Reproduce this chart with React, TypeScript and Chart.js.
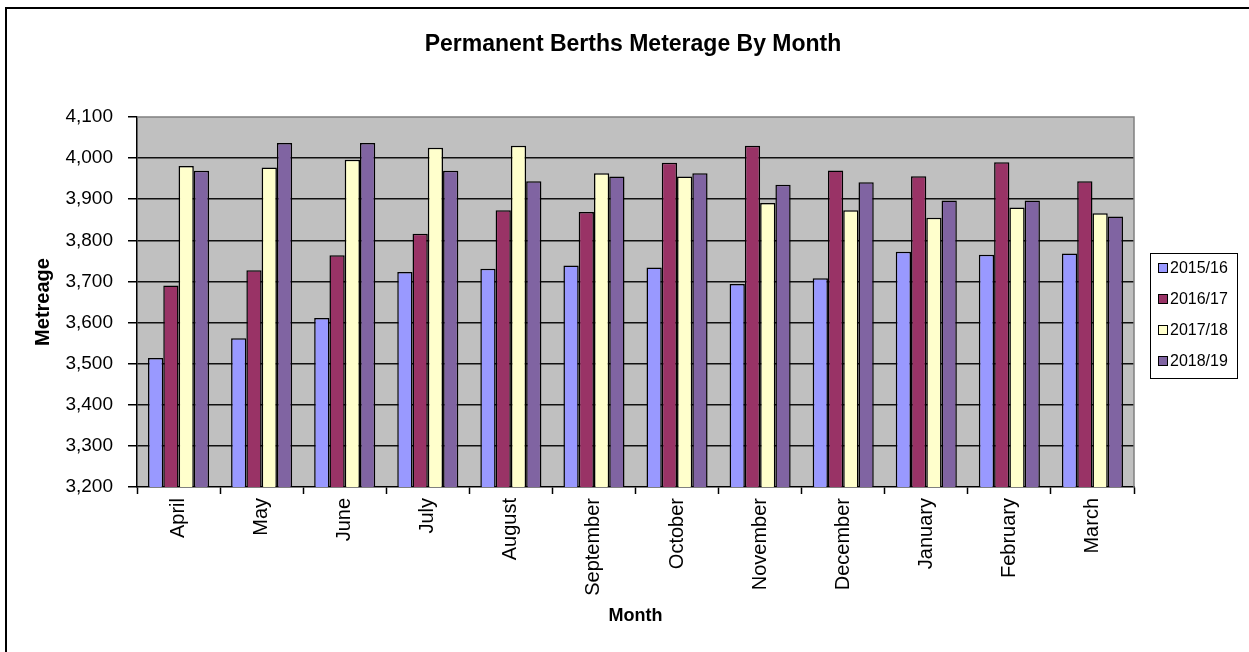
import React, { useEffect, useRef } from "react";
import { Chart, registerables } from "chart.js";

Chart.register(...registerables);

const months = [
  "April", "May", "June", "July", "August", "September",
  "October", "November", "December", "January", "February", "March",
];
const seriesLabels = ["2015/16", "2016/17", "2017/18", "2018/19"];
const s2015 = [3514, 3562, 3611, 3723, 3731, 3739, 3734, 3694, 3708, 3772, 3765, 3768];
const s2016 = [3690, 3727, 3764, 3816, 3873, 3869, 3989, 4030, 3970, 3956, 3990, 3944];
const s2017 = [3981, 3977, 3996, 4025, 4030, 3963, 3955, 3891, 3873, 3855, 3880, 3866];
const s2018 = [3969, 4037, 4037, 3969, 3944, 3955, 3963, 3935, 3941, 3897, 3897, 3858];
const colors = ["#9999FF", "#993366", "#FFFFCC", "#8064A2"];
const yMin = 3200;
const yMax = 4100;
const yStep = 100;

const FONT = "'Liberation Sans', Arial, sans-serif";

const decorPlugin = {
  id: "decor",
  beforeDraw(chart: any) {
    const { ctx, chartArea: a } = chart;
    ctx.save();
    ctx.fillStyle = "#FFFFFF";
    ctx.fillRect(0, 0, chart.width, chart.height);
    ctx.fillStyle = "#C0C0C0";
    ctx.fillRect(a.left, a.top, a.right - a.left, a.bottom - a.top);
    ctx.restore();
  },
  afterDraw(chart: any) {
    const { ctx, chartArea: a } = chart;
    ctx.save();
    // plot area border (top/right)
    ctx.strokeStyle = "#808080";
    ctx.lineWidth = 1.5;
    ctx.beginPath();
    ctx.moveTo(a.left, a.top);
    ctx.lineTo(a.right, a.top);
    ctx.lineTo(a.right, a.bottom);
    ctx.stroke();
    // outer frame (top and left)
    ctx.strokeStyle = "#000";
    ctx.lineWidth = 2;
    ctx.beginPath();
    ctx.moveTo(6, chart.height);
    ctx.lineTo(6, 8);
    ctx.lineTo(chart.width, 8);
    ctx.stroke();
    // title
    ctx.fillStyle = "#000";
    ctx.font = `bold 23px ${FONT}`;
    ctx.textAlign = "center";
    ctx.textBaseline = "middle";
    ctx.fillText("Permanent Berths Meterage By Month", 633, 45);
    // legend
    const lx = 1150, ly = 253, lw = 87, lh = 125;
    ctx.fillStyle = "#FFFFFF";
    ctx.fillRect(lx, ly, lw, lh);
    ctx.strokeStyle = "#000";
    ctx.lineWidth = 1;
    ctx.strokeRect(lx + 0.5, ly + 0.5, lw, lh);
    const rows = [268, 299, 330, 361];
    ctx.font = `16px ${FONT}`;
    ctx.textAlign = "left";
    chart.data.datasets.forEach((ds: any, i: number) => {
      const y = rows[i];
      ctx.fillStyle = ds.backgroundColor;
      ctx.fillRect(1158, y - 5, 10, 10);
      ctx.strokeStyle = "#000";
      ctx.strokeRect(1158.5, y - 4.5, 9, 9);
      ctx.fillStyle = "#000";
      ctx.fillText(ds.label, 1170, y + 1);
    });
    ctx.restore();
  },
};

export default function App() {
  const ref = useRef<HTMLCanvasElement | null>(null);
  useEffect(() => {
    document.body.style.margin = "0";
    const series = [s2015, s2016, s2017, s2018];
    const chart = new Chart(ref.current as HTMLCanvasElement, {
      type: "bar",
      data: {
        labels: months,
        datasets: series.map((d, i) => ({
          label: seriesLabels[i],
          data: d,
          backgroundColor: colors[i],
          borderColor: "#000",
          borderWidth: 1.5,
          categoryPercentage: 0.735,
          barPercentage: 1,
        })),
      },
      options: {
        animation: false,
        responsive: false,
        devicePixelRatio: 1,
        layout: { padding: { left: 0, right: 115, top: 117, bottom: 0 } },
        plugins: {
          legend: { display: false },
          title: { display: false },
          tooltip: { enabled: false },
        },
        scales: {
          x: {
            afterFit: (s: any) => { s.height = 165; },
            grid: {
              offset: true,
              drawOnChartArea: false,
              drawTicks: true,
              tickLength: 7,
              tickColor: "#000",
              tickWidth: 1.5,
            },
            border: { display: true, color: "#000", width: 1.5 },
            ticks: {
              minRotation: 90,
              maxRotation: 90,
              padding: 4,
              color: "#000",
              font: { family: FONT, size: 20 },
            },
            title: {
              display: true,
              text: "Month",
              color: "#000",
              font: { family: FONT, size: 18, weight: "bold" },
              padding: { top: 0, bottom: 25 },
            },
          },
          y: {
            min: yMin,
            max: yMax,
            afterFit: (s: any) => { s.width = 137; },
            ticks: {
              stepSize: yStep,
              padding: 15,
              color: "#000",
              font: { family: FONT, size: 19 },
              callback: (v: any) => Number(v).toLocaleString("en-US"),
            },
            grid: {
              drawTicks: true,
              tickLength: 9,
              tickColor: "#000",
              tickWidth: 1.5,
              lineWidth: 1.5,
              color: (c: any) =>
                c.tick && (c.tick.value === yMax || c.tick.value === yMin)
                  ? "rgba(0,0,0,0)"
                  : "#111",
            },
            border: { display: true, color: "#000", width: 1.5 },
            title: {
              display: true,
              text: "Metreage",
              color: "#000",
              font: { family: FONT, size: 20, weight: "bold" },
              padding: { top: 31, bottom: 0 },
            },
          },
        },
      },
      plugins: [decorPlugin],
    });
    return () => chart.destroy();
  }, []);
  return (
    <div style={{ position: "absolute", left: 0, top: 0, width: 1249, height: 652 }}>
      <canvas ref={ref} width={1249} height={652} />
    </div>
  );
}
